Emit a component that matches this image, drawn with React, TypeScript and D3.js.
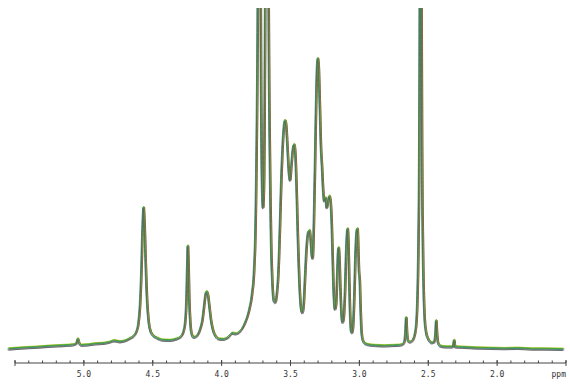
import { useEffect, useRef } from "react";
import * as d3 from "d3";

// [ppm, intensity] pairs, left to right
const baselineLeft: [number, number][] = [
  [5.55, 1.0], [5.45, 1.3], [5.35, 1.5], [5.25, 1.8], [5.15, 2.0], [5.08, 2.2],
  [5.055, 2.6], [5.045, 4.0], [5.035, 2.8], [5.02, 2.1], [4.97, 2.2], [4.92, 2.5],
  [4.87, 2.6], [4.82, 2.9], [4.78, 3.4], [4.74, 3.1], [4.70, 3.4], [4.67, 4.0],
];

const peaks45to40: [number, number][] = [
  [4.64, 4.8], [4.62, 6.0], [4.605, 8.5], [4.593, 14], [4.583, 24], [4.575, 36],
  [4.567, 42.2], [4.56, 37], [4.552, 26], [4.543, 16], [4.533, 10], [4.52, 6.6],
  [4.50, 5.0], [4.47, 4.2], [4.43, 3.6], [4.38, 3.5], [4.33, 3.9], [4.30, 4.5],
  [4.28, 5.8], [4.265, 9.0], [4.256, 16], [4.25, 26], [4.246, 31], [4.242, 27],
  [4.236, 16], [4.228, 8.6], [4.218, 5.4], [4.205, 4.4], [4.19, 4.5], [4.172, 5.3],
  [4.155, 7], [4.14, 9.5], [4.128, 13.5], [4.117, 17], [4.109, 17.7], [4.101, 17],
  [4.09, 13.5], [4.078, 9.5], [4.063, 6.5], [4.045, 4.8], [4.02, 3.9], [3.99, 3.8],
  [3.96, 4.2], [3.94, 5.0], [3.925, 5.6], [3.90, 5.4], [3.87, 6.0],
];

const peaks37to34: [number, number][] = [
  [3.833, 8.4], [3.80, 12.5], [3.78, 17], [3.765, 24], [3.755, 36], [3.748, 55],
  [3.740, 90], [3.733, 150], [3.727, 210], [3.721, 140], [3.714, 75], [3.707, 48],
  [3.700, 42], [3.693, 50], [3.686, 90], [3.679, 170], [3.672, 210], [3.665, 150],
  [3.658, 90], [3.650, 55], [3.642, 33], [3.632, 20], [3.622, 15], [3.612, 14.5],
  [3.600, 17], [3.588, 24], [3.578, 36], [3.566, 52], [3.552, 64], [3.540, 67.5],
  [3.532, 66], [3.522, 59], [3.512, 52], [3.504, 50], [3.495, 54], [3.484, 59],
  [3.474, 60.5], [3.466, 58], [3.457, 48], [3.447, 33], [3.436, 20], [3.425, 13],
  [3.415, 11.5], [3.405, 14], [3.395, 22], [3.385, 30], [3.372, 35], [3.362, 35.5],
  [3.355, 33], [3.347, 28.5], [3.340, 27.3],
];

const peaks33to30: [number, number][] = [
  [3.334, 33], [3.325, 50], [3.315, 72], [3.308, 83], [3.302, 85.5], [3.296, 83],
  [3.288, 72], [3.28, 60], [3.272, 54], [3.265, 48], [3.256, 44], [3.247, 45],
  [3.238, 42], [3.228, 44], [3.218, 45.5], [3.210, 44], [3.202, 38], [3.195, 28],
  [3.187, 17], [3.178, 12.5], [3.170, 14], [3.162, 22], [3.156, 29], [3.151, 30.5],
  [3.146, 28], [3.14, 20], [3.132, 12], [3.123, 8.7], [3.115, 10], [3.105, 18],
  [3.097, 29], [3.090, 35], [3.086, 36], [3.081, 33], [3.075, 22], [3.068, 11],
  [3.06, 6], [3.054, 5.7], [3.046, 8], [3.038, 16], [3.028, 30], [3.020, 35.5],
  [3.014, 36], [3.009, 31], [3.004, 24], [2.998, 21], [2.993, 14], [2.985, 6],
  [2.975, 3.5], [2.96, 2.6], [2.93, 2.2], [2.88, 2.0], [2.82, 1.9], [2.76, 2.0],
  [2.71, 2.1],
];

const peaksRight: [number, number][] = [
  [2.69, 2.3], [2.675, 3.0], [2.667, 5.8], [2.661, 10.2], [2.655, 5.8], [2.648, 3.4],
  [2.635, 3.0], [2.62, 3.3], [2.605, 4.3], [2.595, 6], [2.585, 10], [2.578, 18],
  [2.572, 32], [2.566, 60], [2.562, 110], [2.558, 220], [2.554, 220], [2.550, 110],
  [2.546, 60], [2.540, 32], [2.534, 18], [2.527, 10], [2.517, 6], [2.505, 4.3],
  [2.49, 3.2], [2.475, 2.8], [2.458, 3.0], [2.449, 5.4], [2.443, 9.3], [2.437, 5.4],
  [2.428, 2.6], [2.41, 1.8], [2.37, 1.6], [2.322, 1.6], [2.313, 3.6], [2.305, 1.6],
  [2.25, 1.5], [2.15, 1.3], [2.05, 1.2], [1.95, 1.1], [1.85, 1.2], [1.75, 1.0],
  [1.65, 1.0], [1.52, 0.9],
];

const spectrum = [...baselineLeft, ...peaks45to40, ...peaks37to34, ...peaks33to30, ...peaksRight];

const majorTicks = [5.5, 5.0, 4.5, 4.0, 3.5, 3.0, 2.5, 2.0, 1.5];
const tickLabels = ["5.0", "4.5", "4.0", "3.5", "3.0", "2.5", "2.0"];

// overlaid sample traces (colour + tiny pixel offset)
const traces = [
  { color: "#a0a0a0", dx: 0.9, dy: 1.3, w: 1.1 },
  { color: "#b3c62c", dx: 0.4, dy: -0.8, w: 0.9 },
  { color: "#8a5a3c", dx: 1.0, dy: 0.2, w: 0.9 },
  { color: "#2f8c80", dx: -0.7, dy: 0.5, w: 0.9 },
  { color: "#46a832", dx: 0.0, dy: -0.3, w: 1.0 },
  { color: "#5a5a5a", dx: -0.3, dy: 1.6, w: 0.8 },
];

export default function App() {
  const ref = useRef<SVGSVGElement>(null);

  useEffect(() => {
    const svg = d3.select(ref.current);
    svg.selectAll("*").remove();

    const x = d3.scaleLinear().domain([5.5, 1.5]).range([15, 566]);
    const y = d3.scaleLinear().domain([0, 100]).range([352, 8]);

    svg.append("rect").attr("width", 570).attr("height", 384).attr("fill", "#fff");

    svg.append("clipPath").attr("id", "plotClip")
      .append("rect").attr("x", 0).attr("y", 8).attr("width", 570).attr("height", 350);

    const line = d3.line<[number, number]>()
      .x(d => x(d[0]))
      .y(d => y(d[1]))
      .curve(d3.curveMonotoneX);

    const g = svg.append("g").attr("clip-path", "url(#plotClip)");
    traces.forEach(t => {
      g.append("path")
        .datum(spectrum)
        .attr("d", line)
        .attr("transform", `translate(${t.dx},${t.dy})`)
        .attr("fill", "none")
        .attr("stroke", t.color)
        .attr("stroke-width", t.w)
        .attr("stroke-linejoin", "round");
    });

    // ppm axis
    const axisY = 363;
    const axis = svg.append("g").attr("stroke", "#444");
    axis.append("line")
      .attr("x1", x(5.5)).attr("x2", x(1.5))
      .attr("y1", axisY).attr("y2", axisY)
      .attr("stroke-width", 1);

    const minor = d3.range(55, 14, -1).map(v => v / 10);
    axis.selectAll(".minor").data(minor).join("line")
      .attr("x1", d => x(d)).attr("x2", d => x(d))
      .attr("y1", axisY - 2.5).attr("y2", axisY)
      .attr("stroke-width", 1);

    axis.selectAll(".major").data(majorTicks).join("line")
      .attr("x1", d => x(d)).attr("x2", d => x(d))
      .attr("y1", axisY - 3).attr("y2", axisY + 3)
      .attr("stroke-width", 1);

    svg.selectAll(".tick-label").data(tickLabels).join("text")
      .attr("x", d => x(+d))
      .attr("y", 377)
      .attr("text-anchor", "middle")
      .attr("font-family", "'DejaVu Sans Mono', monospace")
      .attr("font-size", 8)
      .attr("fill", "#333")
      .text(d => d);

    svg.append("text")
      .attr("x", 566).attr("y", 377)
      .attr("text-anchor", "end")
      .attr("font-family", "'DejaVu Sans Mono', monospace")
      .attr("font-size", 8)
      .attr("fill", "#333")
      .text("ppm");
  }, []);

  return (
    <svg
      ref={ref}
      width={570}
      height={384}
      style={{ position: "absolute", left: 0, top: 0, display: "block" }}
    />
  );
}
